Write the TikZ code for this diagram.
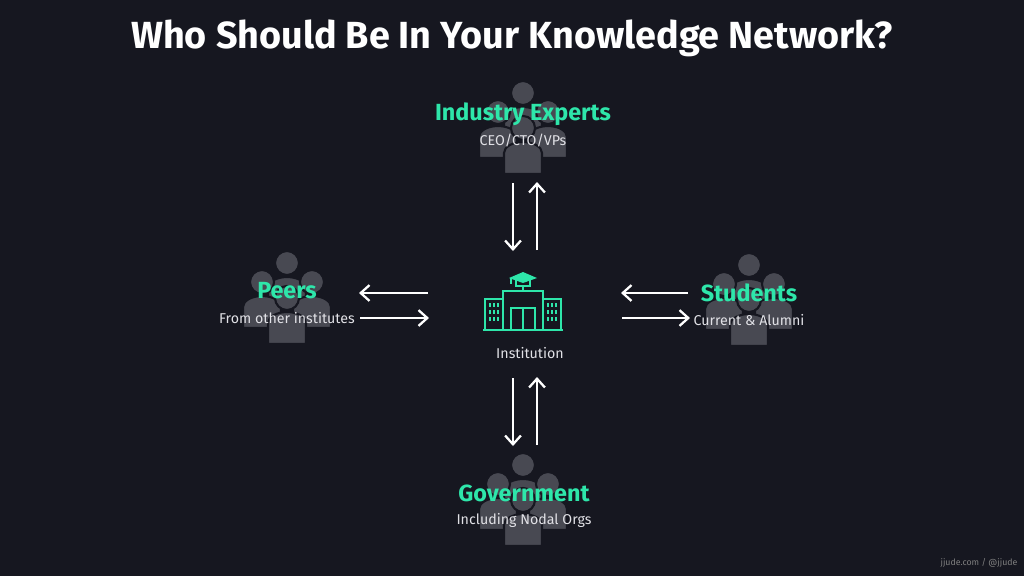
\documentclass[tikz,border=0pt]{standalone}
\usepackage{fontspec}
\setmainfont{Fira Sans}
\usetikzlibrary{arrows.meta}
\definecolor{SlideBg}{RGB}{22,23,32}
\definecolor{CrowdGray}{RGB}{72,73,82}
\definecolor{MintGreen}{RGB}{46,230,170}
\definecolor{SubGray}{RGB}{225,225,230}
\tikzset{%
  title text/.style={text=white, font=\fontsize{21.5}{24}\selectfont\bfseries},
  group label/.style={text=MintGreen, font=\fontsize{13.3}{15}\selectfont\bfseries},
  sub label/.style={text=SubGray, font=\fontsize{8.1}{10}\selectfont},
  flow/.style={white, line width=1.3pt, -{Straight Barb[length=5pt,width=9pt]}},
  icon line/.style={MintGreen, line width=1.4pt}
}
% one figure of a crowd: head and shoulders
\newcommand{\person}[2]{%
  \fill[CrowdGray, draw=SlideBg, line width=1.2pt]
    (#1-19,#2+46) -- (#1-19,#2+25) arc[start angle=180, end angle=0, x radius=19, y radius=-11]
    -- (#1+19,#2+46) -- cycle;
  \fill[CrowdGray, draw=SlideBg, line width=1.2pt] (#1,#2) circle[radius=12];
}
\newcommand{\crowd}[2]{%
  \person{#1}{#2-37}
  \person{#1-25}{#2-18}
  \person{#1+25}{#2-18}
  \person{#1}{#2-2}
}
\begin{document}
\begin{tikzpicture}[x=0.02cm, y=-0.02cm]
  \fill[SlideBg] (0,0) rectangle (1024,576);
  \useasboundingbox (0,0) rectangle (1024,576);
  \node[title text] (title) at (512,38) {Who Should Be In Your Knowledge Network?};

  % crowds behind the labels
  \crowd{523}{130}
  \crowd{287}{300}
  \crowd{749}{302}
  \crowd{523}{502}

  \node[group label] (experts) at (523,114) {Industry Experts};
  \node[sub label] (expertsub) at (523,140) {CEO/CTO/VPs};
  \node[group label] (peers) at (287,291) {Peers};
  \node[sub label] (peersub) at (287,318) {From other institutes};
  \node[group label] (students) at (749,293) {Students};
  \node[sub label] (studentsub) at (749,320) {Current \& Alumni};
  \node[group label] (gov) at (524,493) {Government};
  \node[sub label] (govsub) at (524,520) {Including Nodal Orgs};

  % institution icon
  \begin{scope}[shift={(523,305)}]
    \draw[icon line] (-20,25) -- (-20,-14) -- (20,-14) -- (20,25);
    \draw[icon line] (-38,25) rectangle (-20,-6);
    \draw[icon line] (20,25) rectangle (38,-6);
    \draw[icon line] (-40,25) -- (40,25);
    \draw[icon line] (-12,25) -- (-12,3) -- (12,3) -- (12,25);
    \draw[icon line] (0,3) -- (0,25);
    \foreach \dx in {-33,-29,-25,25,29,33}
      \foreach \dy in {0,7,14}
        \fill[MintGreen] (\dx-1.3,\dy-2) rectangle (\dx+1.3,\dy+2);
    \draw[icon line] (0,-14) -- (0,-19);
    \fill[MintGreen] (-14,-27) -- (0,-33) -- (14,-27) -- (0,-22) -- cycle;
    \draw[icon line] (-7,-25) -- (-7,-19) -- (7,-19) -- (7,-25);
    \draw[MintGreen, line width=1pt] (-12,-27) -- (-12,-21);
  \end{scope}
  \node[sub label] (inst) at (530,353) {Institution};

  % arrow ends
  \coordinate (tA) at (513,183); \coordinate (tB) at (513,251);
  \coordinate (tC) at (537,250); \coordinate (tD) at (537,182);
  \coordinate (bA) at (513,378); \coordinate (bB) at (513,446);
  \coordinate (bC) at (537,445); \coordinate (bD) at (537,377);
  \coordinate (lA) at (428,293); \coordinate (lB) at (359,293);
  \coordinate (lC) at (360,318); \coordinate (lD) at (429,318);
  \coordinate (rA) at (688,293); \coordinate (rB) at (621,293);
  \coordinate (rC) at (622,318); \coordinate (rD) at (690,318);
  \draw[flow] (tA) -- (tB);
  \draw[flow] (tC) -- (tD);
  \draw[flow] (bA) -- (bB);
  \draw[flow] (bC) -- (bD);
  \draw[flow] (lA) -- (lB);
  \draw[flow] (lC) -- (lD);
  \draw[flow] (rA) -- (rB);
  \draw[flow] (rC) -- (rD);

  \node[text=gray, font=\fontsize{5}{6}\selectfont] (credit) at (979,563) {jjude.com / @jjude};
\end{tikzpicture}
\end{document}
